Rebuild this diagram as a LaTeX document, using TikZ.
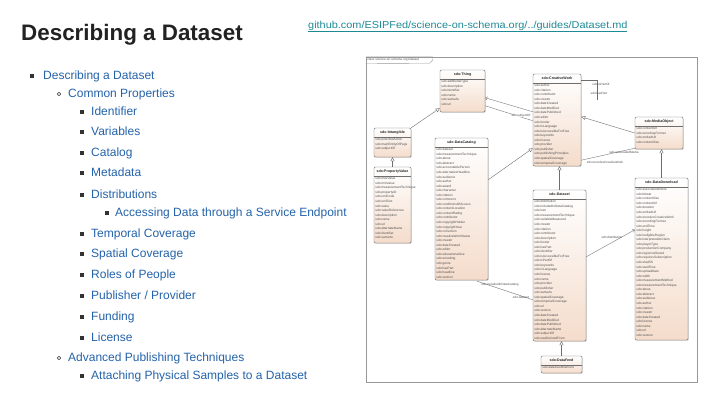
\documentclass[tikz,border=0pt]{standalone}
\usepackage{fontspec}
\setmainfont{Liberation Sans}
\usetikzlibrary{arrows.meta,calc,shadows}
\definecolor{titlegray}{HTML}{222222}
\definecolor{linkteal}{HTML}{1F8A96}
\definecolor{listblue}{HTML}{2463AA}
\definecolor{bulletgray}{HTML}{333333}
\definecolor{boxline}{HTML}{6E6E6E}
\definecolor{peach}{HTML}{F4DCCB}
\definecolor{attrgray}{HTML}{505050}
\tikzset{
  umlbox/.style={draw=boxline, line width=0.45pt, rounded corners=1.2pt, top color=white, bottom color=peach,
    drop shadow={shadow xshift=0.8pt, shadow yshift=-0.8pt, opacity=0.3}, inner sep=0pt},
  umltitle/.style={font=\fontsize{3.6}{4}\selectfont\bfseries, inner sep=0pt, text=black!85},
  umlattr/.style={anchor=north west, align=left, font=\fontsize{3.2}{4.55}\selectfont, inner sep=0pt, text=attrgray},
  asslabel/.style={font=\fontsize{3.1}{3.6}\selectfont, inner sep=0pt, text=attrgray},
  gen/.style={draw=boxline, line width=0.4pt, -{Triangle[open, length=4pt, width=4pt]}},
  assoc/.style={draw=boxline, line width=0.35pt},
  listitem/.style={anchor=base west, font=\fontsize{12}{14}\selectfont, text=listblue, inner sep=0pt},
  sqbullet/.style={fill=bulletgray, minimum size=3.2pt, inner sep=0pt},
  cbullet/.style={draw=bulletgray, circle, line width=0.45pt, minimum size=3.4pt, inner sep=0pt},
}
\newcommand\umlclass[7]{%
  \node[umlbox, minimum width={(#4-#2)*1pt}, minimum height={(#5-#3)*1pt}] (#1) at ({(#2+#4)/2},{(#3+#5)/2}) {};
  \draw[boxline, line width=0.3pt] ($(#1.north west)+(0,9.5)$) -- ($(#1.north east)+(0,9.5)$);
  \node[umltitle] (#1-t) at ($(#1.north)+(0,4.8)$) {#6};
  \node[umlattr] (#1-a) at ($(#1.north west)+(1.5,10.4)$) {#7};
}
\begin{document}
\begin{tikzpicture}[x=1pt,y=-1pt]
\useasboundingbox[fill=white] (0,0) rectangle (720,405);

% title and link
\node[anchor=base west, font=\fontsize{22.4}{26}\selectfont\bfseries, text=titlegray, inner sep=0pt] (title) at (21,40) {Describing a Dataset};
\node[anchor=base west, font=\fontsize{10}{12}\selectfont, text=linkteal, inner sep=0pt] (link) at (308,28)
  {\scalebox{1.09}[1]{\underline{github.com/ESIPFed/science-on-schema.org/../guides/Dataset.md}}};

% list
\node[sqbullet] (b1) at (32,76) {};
\node[listitem] (l1) at (43,79.5) {Describing a Dataset};
\node[cbullet] (b2) at (59,94) {};
\node[listitem] (l2) at (68,97.5) {Common Properties};
\node[sqbullet] (b3) at (82,112) {};
\node[listitem] (l3) at (91,115.5) {Identifier};
\node[sqbullet] (b4) at (82,132) {};
\node[listitem] (l4) at (91,135.5) {Variables};
\node[sqbullet] (b5) at (82,153) {};
\node[listitem] (l5) at (91,156.5) {Catalog};
\node[sqbullet] (b6) at (82,173) {};
\node[listitem] (l6) at (91,176.5) {Metadata};
\node[sqbullet] (b7) at (82,195) {};
\node[listitem] (l7) at (91,198.5) {Distributions};
\node[sqbullet] (b8) at (107,213) {};
\node[listitem] (l8) at (115,216.5) {Accessing Data through a Service Endpoint};
\node[sqbullet] (b9) at (82,234) {};
\node[listitem] (l9) at (91,237.5) {Temporal Coverage};
\node[sqbullet] (b10) at (82,254) {};
\node[listitem] (l10) at (91,257.5) {Spatial Coverage};
\node[sqbullet] (b11) at (82,275) {};
\node[listitem] (l11) at (91,278.5) {Roles of People};
\node[sqbullet] (b12) at (82,296) {};
\node[listitem] (l12) at (91,299.5) {Publisher / Provider};
\node[sqbullet] (b13) at (82,317) {};
\node[listitem] (l13) at (91,320.5) {Funding};
\node[sqbullet] (b14) at (82,338) {};
\node[listitem] (l14) at (91,341.5) {License};
\node[cbullet] (b15) at (59,358) {};
\node[listitem] (l15) at (68,361.5) {Advanced Publishing Techniques};
\node[sqbullet] (b16) at (82,376) {};
\node[listitem] (l16) at (91,379.5) {Attaching Physical Samples to a Dataset};

% diagram frame
\node[draw=gray!80, line width=0.6pt, minimum width=331pt, minimum height=325pt, inner sep=0pt] (frame) at (531.5,219.5) {};
\draw[draw=gray!80, line width=0.4pt] (frame.north west) -- ++(67,0) -- ++(0,3.5) -- ++(-3,3) -- (frame.north west |- 0,63.5);
\node[asslabel, anchor=west] (frametab) at ($(frame.north west)+(1.5,3.3)$) {class science-on-schema.org Dataset};

% classes
\umlclass{thing}{440}{70}{485}{112}{sdo:Thing}{sdo:additionalType\\sdo:description\\sdo:identifier\\sdo:name\\sdo:sameAs\\sdo:url}
\umlclass{intan}{374}{128}{411}{157}{sdo:Intangible}{sdo:potentialAction\\sdo:mainEntityOfPage\\sdo:subjectOf}
\umlclass{pv}{374}{167}{411}{243}{sdo:PropertyValue}{sdo:maxValue\\sdo:minValue\\sdo:measurementTechnique\\sdo:propertyID\\sdo:unitCode\\sdo:unitText\\sdo:value\\sdo:valueReference\\sdo:description\\sdo:name\\sdo:url\\sdo:alternateName\\sdo:identifier\\sdo:sameAs}
\umlclass{cw}{533}{74}{581}{166}{sdo:CreativeWork}{sdo:author\\sdo:citation\\sdo:contributor\\sdo:creator\\sdo:dateCreated\\sdo:dateModified\\sdo:datePublished\\sdo:editor\\sdo:funder\\sdo:inLanguage\\sdo:isAccessibleForFree\\sdo:keywords\\sdo:license\\sdo:provider\\sdo:publisher\\sdo:publishingPrinciples\\sdo:spatialCoverage\\sdo:temporalCoverage}
\umlclass{dc}{435}{138}{488}{280}{sdo:DataCatalog}{sdo:dataset\\sdo:measurementTechnique\\sdo:about\\sdo:abstract\\sdo:accountablePerson\\sdo:alternativeHeadline\\sdo:audience\\sdo:author\\sdo:award\\sdo:character\\sdo:citation\\sdo:comment\\sdo:conditionsOfAccess\\sdo:contentLocation\\sdo:contentRating\\sdo:contributor\\sdo:copyrightHolder\\sdo:copyrightYear\\sdo:correction\\sdo:creativeWorkStatus\\sdo:creator\\sdo:dateCreated\\sdo:editor\\sdo:educationalUse\\sdo:encoding\\sdo:genre\\sdo:hasPart\\sdo:headline\\sdo:version}
\umlclass{mo}{635}{117}{683}{149}{sdo:MediaObject}{sdo:contentUrl\\sdo:encodingFormat\\sdo:embedUrl\\sdo:contentSize}
\umlclass{dd}{635}{178}{688}{340}{sdo:DataDownload}{sdo:associatedArticle\\sdo:bitrate\\sdo:contentSize\\sdo:contentUrl\\sdo:duration\\sdo:embedUrl\\sdo:encodesCreativeWork\\sdo:encodingFormat\\sdo:endTime\\sdo:height\\sdo:ineligibleRegion\\sdo:interpretedAsClaim\\sdo:playerType\\sdo:productionCompany\\sdo:regionsAllowed\\sdo:requiresSubscription\\sdo:sha256\\sdo:startTime\\sdo:uploadDate\\sdo:width\\sdo:measurementMethod\\sdo:measurementTechnique\\sdo:about\\sdo:abstract\\sdo:audience\\sdo:author\\sdo:citation\\sdo:creator\\sdo:dateCreated\\sdo:license\\sdo:name\\sdo:url\\sdo:version}
\umlclass{ds}{533}{190}{586}{341}{sdo:Dataset}{sdo:distribution\\sdo:includedInDataCatalog\\sdo:issn\\sdo:measurementTechnique\\sdo:variableMeasured\\sdo:creator\\sdo:citation\\sdo:contributor\\sdo:description\\sdo:funder\\sdo:hasPart\\sdo:identifier\\sdo:isAccessibleForFree\\sdo:isPartOf\\sdo:keywords\\sdo:inLanguage\\sdo:license\\sdo:name\\sdo:provider\\sdo:publisher\\sdo:sameAs\\sdo:spatialCoverage\\sdo:temporalCoverage\\sdo:url\\sdo:version\\sdo:dateCreated\\sdo:dateModified\\sdo:datePublished\\sdo:alternateName\\sdo:subjectOf\\sdo:wasDerivedFrom}
\umlclass{df}{541}{356}{582}{373}{sdo:DataFeed}{sdo:dataFeedElement}

% generalizations
\draw[gen] (intan.north east) -- ($(thing.south west)+(0,-4)$);
\draw[gen] (pv.north) -- (intan.south);
\draw[gen] ($(dc.north east)+(0,42)$) -- ($(cw.south west)+(0,-18)$);
\draw[gen] (mo.west) -- ($(cw.north east)+(0,43)$);
\draw[gen] (ds.north) -- (ds.north |- cw.south);
\draw[gen] (dd.north) -- (dd.north |- mo.south);
\draw[gen] (df.north) -- (df.north |- ds.south);

% associations
\draw[assoc, {Straight Barb[length=2pt, width=3.5pt]}-] ($(thing.north east)+(0,28)$) -- ($(cw.north west)+(0,38)$);
\draw[assoc] ($(thing.north east)+(0,36)$) -- ($(cw.north west)+(0,47)$);
\node[asslabel, fill=white, fill opacity=0.8, text opacity=1] (lsubj) at (521,116) {sdo:subjectOf};

\coordinate (cwloop) at (597,100);
\draw[assoc] ($(cw.north east)+(0,6)$) -| (cwloop);
\node[asslabel] (lispart) at (601,84) {sdo:isPartOf};
\node[asslabel] (lhaspart) at (599,93) {sdo:hasPart};

\draw[assoc] ($(cw.south east)+(0,-6)$) -- ($(mo.south west)+(0,-1)$);
\node[asslabel] (lassoc) at (624,152.5) {sdo:associatedMedia};
\node[asslabel] (lenc) at (605,162) {sdo:encodesCreativeWork};

\draw[assoc] ($(dc.south east)+(-11,1)$) -- ($(ds.north west)+(0,110)$);
\node[asslabel] (linc) at (500,285) {sdo:includedInDataCatalog};
\node[asslabel] (ldataset) at (521,297.5) {sdo:dataset};

\draw[assoc, -{Straight Barb[length=2pt, width=3.5pt]}] ($(ds.north east)+(0,67)$) -- ($(dd.north west)+(0,52)$);
\node[asslabel] (ldist) at (612,237) {sdo:distribution};
\end{tikzpicture}
\end{document}
